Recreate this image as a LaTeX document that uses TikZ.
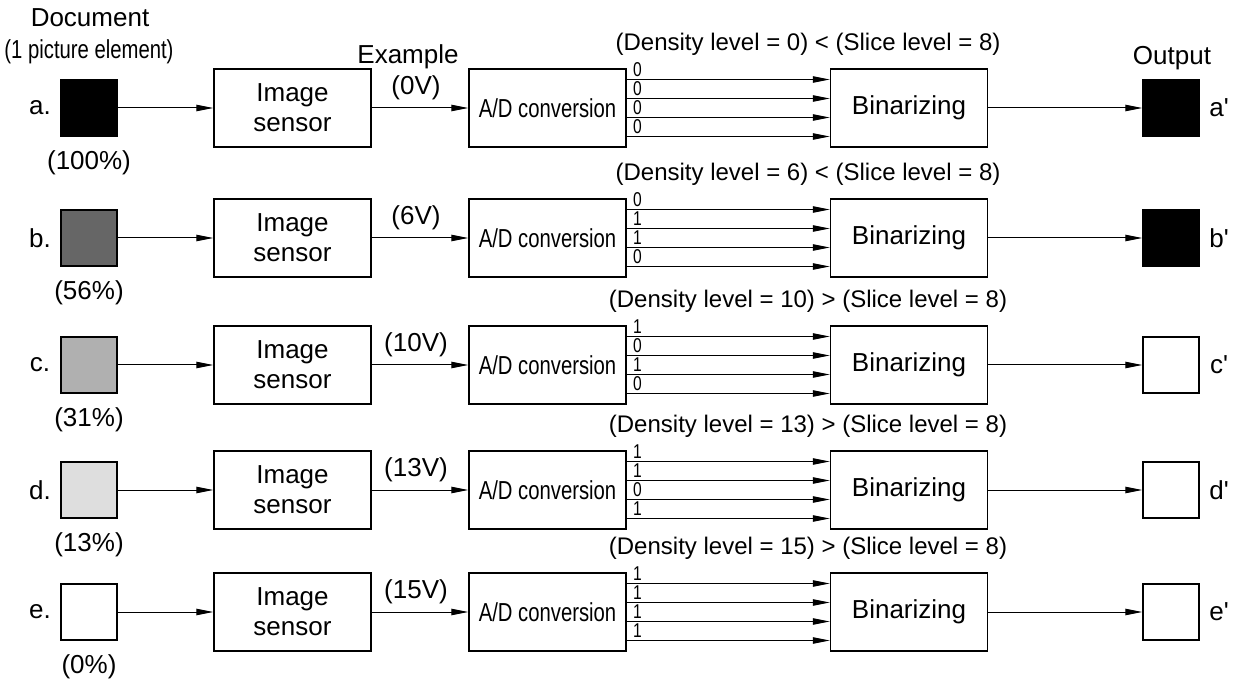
\documentclass[tikz,border=0pt]{standalone}
\usepackage{fontspec}
\setmainfont{Liberation Sans}
\newfontfamily\narrowfont[FakeStretch=0.78]{Liberation Sans}
\usetikzlibrary{arrows.meta}

\definecolor{tone56}{gray}{0.40}
\definecolor{tone31}{gray}{0.69}
\definecolor{tone13}{gray}{0.87}

\tikzset{
  blk/.style={draw, line width=0.7pt, minimum width=78.5pt, minimum height=39pt,
    align=center, inner sep=0pt, font=\fontsize{13}{15}\selectfont},
  pel/.style={draw, line width=0.7pt, minimum size=28pt, inner sep=0pt},
  txt/.style={inner sep=0pt, font=\fontsize{13}{15}\selectfont},
  rel/.style={inner sep=0pt, font=\fontsize{12}{14}\selectfont},
  bit/.style={inner sep=0pt, anchor=south west, font=\narrowfont\fontsize{10}{11}\selectfont},
  flow/.style={line width=0.5pt, -{Triangle[length=8.5pt,width=3.2pt]}},
}

\begin{document}
\begin{tikzpicture}[x=0.5pt,y=-0.5pt]
\useasboundingbox (0,0) rectangle (1246,683);
\node[txt] (dochead) at (90,18) {Document};
\node[txt, font=\narrowfont\fontsize{13}{15}\selectfont] (docnote) at (89,52) {(1 picture element)};
\node[txt] (example) at (408,57) {Example};
\node[txt] (outhead) at (1172,58) {Output};
\foreach \r/\y/\f/\p/\v/\c/\ba/\bb/\bc/\bd/\o in {
    a/108/black/100/0/</0/0/0/0/black,
    b/238/tone56/56/6/</0/1/1/0/black,
    c/365/tone31/31/10/>/1/0/1/0/white,
    d/490/tone13/13/13/>/1/1/0/1/white,
    e/612/white/0/15/>/1/1/1/1/white}
{
  \node[pel, fill=\f] (doc\r) at (89,\y) {};
  \node[txt] (tag\r) at (40,\y) {\r.};
  \node[txt] (pct\r) at (89,\y+55) {(\p\%)};
  \node[blk] (sen\r) at (292.5,\y) {Image\\sensor};
  \node[blk, font=\narrowfont\fontsize{13}{15}\selectfont] (ad\r) at (547.5,\y) {A/D conversion};
  \node[blk] (bin\r) at (909,\y) {Binarizing};
  \node[pel, fill=\o] (out\r) at (1171,\y) {};
  \node[txt] (otag\r) at (1219,\y) {\r\textquotesingle};
  \node[txt] (volt\r) at (416,\y-20) {(\v V)};
  \node[rel] (dens\r) at (808,\y-64) {(Density level = \v) \c{} (Slice level = 8)};
  \draw[flow] (doc\r) -- (sen\r);
  \draw[flow] (sen\r) -- (ad\r);
  \draw[flow] (bin\r) -- (out\r);
  % four bit lines
  \draw[flow] ([yshift=14.25pt]ad\r.east) -- ([yshift=14.25pt]bin\r.west);
  \draw[flow] ([yshift=4.75pt]ad\r.east) -- ([yshift=4.75pt]bin\r.west);
  \draw[flow] ([yshift=-4.75pt]ad\r.east) -- ([yshift=-4.75pt]bin\r.west);
  \draw[flow] ([yshift=-14.25pt]ad\r.east) -- ([yshift=-14.25pt]bin\r.west);
  \node[bit] (bita\r) at ([xshift=3pt,yshift=15.5pt]ad\r.east) {\ba};
  \node[bit] (bitb\r) at ([xshift=3pt,yshift=6pt]ad\r.east) {\bb};
  \node[bit] (bitc\r) at ([xshift=3pt,yshift=-3.5pt]ad\r.east) {\bc};
  \node[bit] (bitd\r) at ([xshift=3pt,yshift=-13pt]ad\r.east) {\bd};
}
\end{tikzpicture}
\end{document}
